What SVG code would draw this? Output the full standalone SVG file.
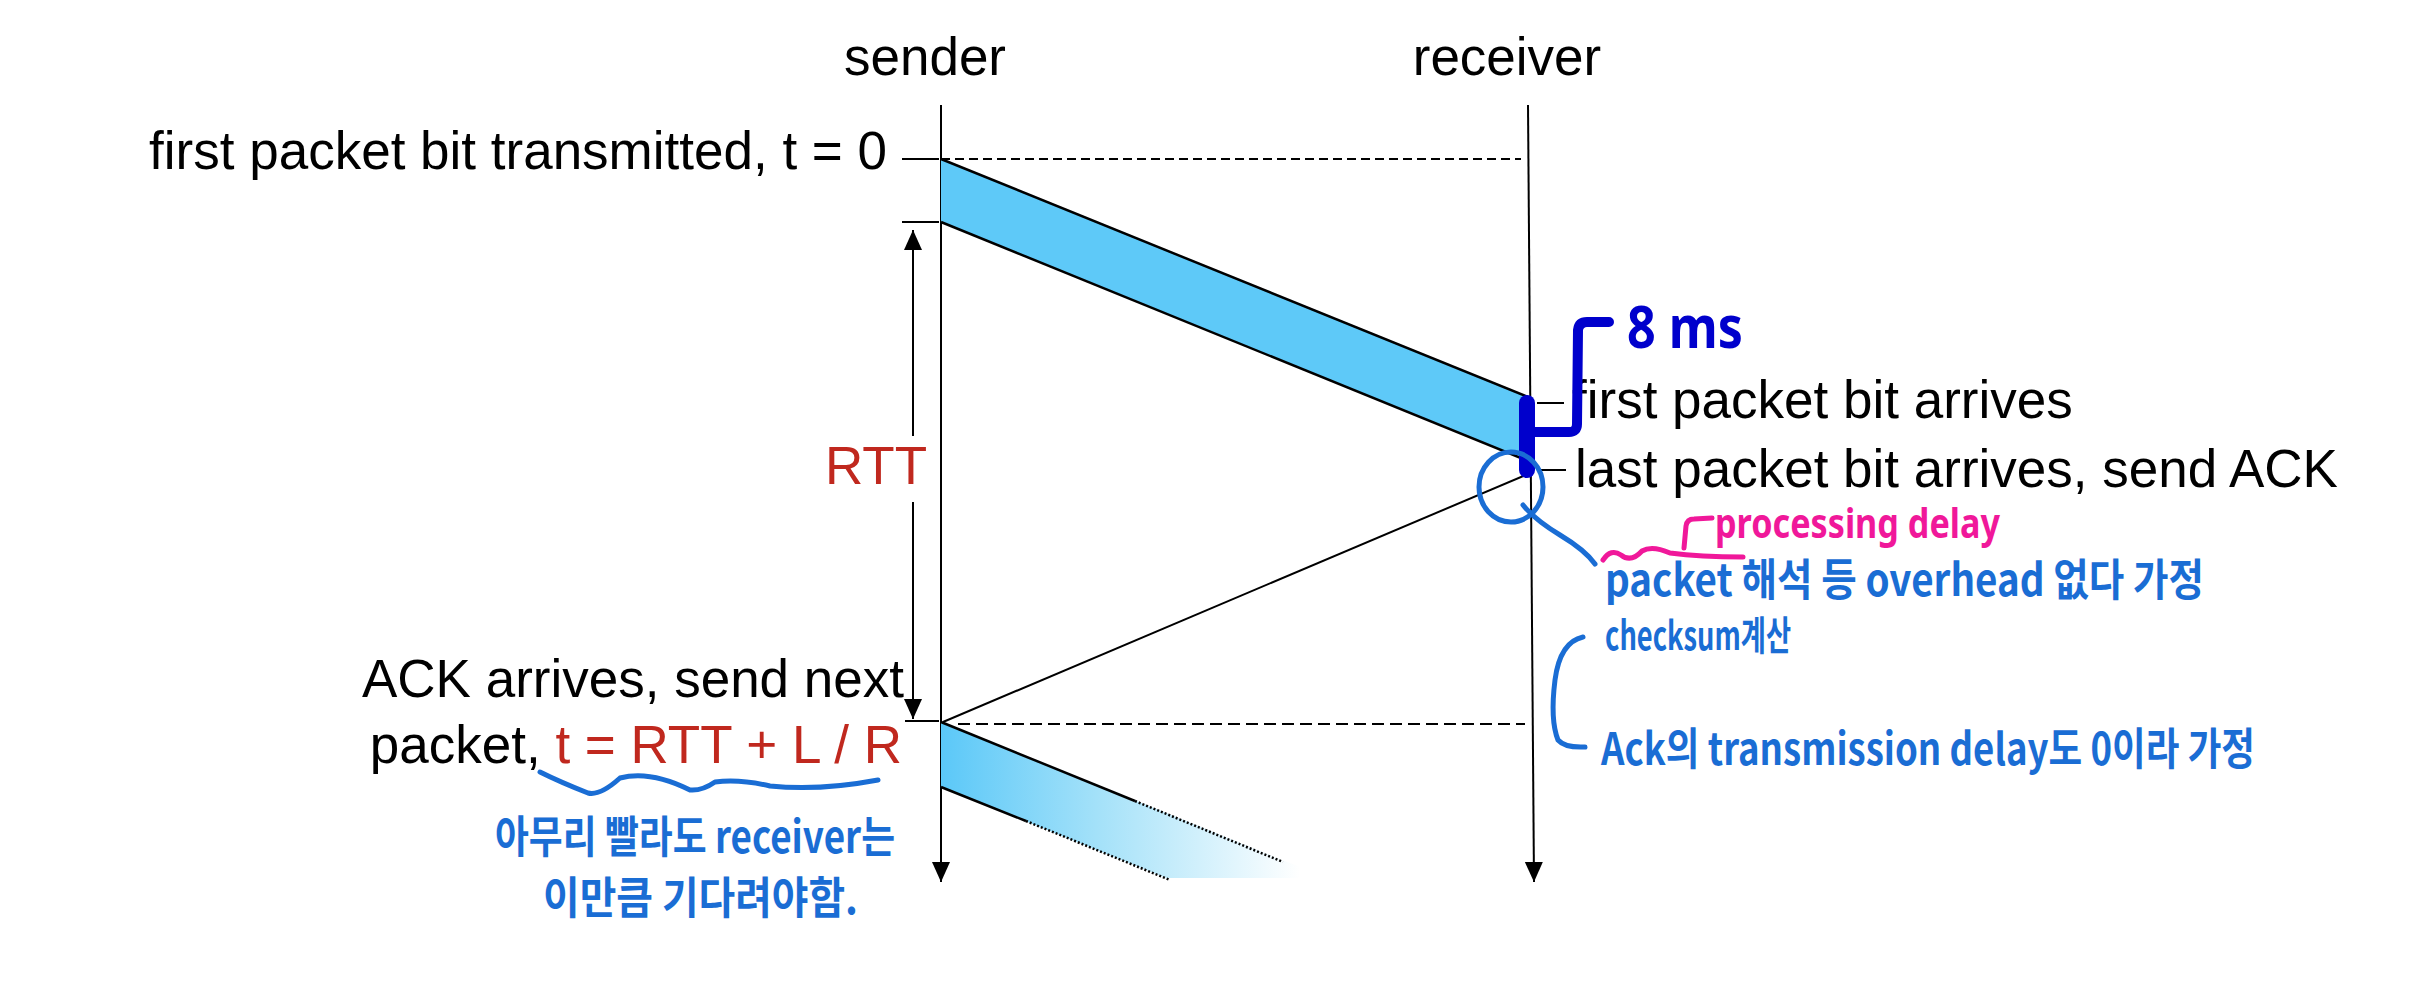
<svg xmlns="http://www.w3.org/2000/svg" width="2426" height="1000" viewBox="0 0 2426 1000">
<style>
.t{font-family:"Liberation Sans",Arial,sans-serif;font-size:53px;fill:#000}
.red{fill:#c0281e}
.ln{stroke:#000;stroke-width:2;fill:none}
.edge{stroke:#000;stroke-width:2.5;fill:none}
.dot{stroke:#000;stroke-width:2.5;fill:none;stroke-dasharray:2 2}
.dash1{stroke:#000;stroke-width:2;fill:none;stroke-dasharray:9 5}
.dash2{stroke:#000;stroke-width:2;fill:none;stroke-dasharray:12 6}
.hw{font-family:"Noto Sans CJK KR","Noto Sans",sans-serif;fill:#1a6dd4;font-weight:bold}
.hws{stroke:#1a6dd4;stroke-width:5;fill:none;stroke-linecap:round;stroke-linejoin:round}
.pk{stroke:#f0189a;stroke-width:5;fill:none;stroke-linecap:round;stroke-linejoin:round}
.db{stroke:#0000cc;fill:none;stroke-linecap:round;stroke-linejoin:round}
</style>
<defs>
<marker id="ah" viewBox="0 0 20 20" refX="20" refY="10" markerWidth="20" markerHeight="20" markerUnits="userSpaceOnUse" orient="auto-start-reverse">
<path d="M0,1 L20,10 L0,19 Z" fill="#000"/>
</marker>
<linearGradient id="fade" gradientUnits="userSpaceOnUse" x1="941" y1="0" x2="1300" y2="0">
<stop offset="0" stop-color="#5bc8f8"/>
<stop offset="0.45" stop-color="#a6e2f9"/>
<stop offset="1" stop-color="#ffffff"/>
</linearGradient>
</defs>
<rect width="2426" height="1000" fill="#fff"/>

<g id="sender">
<text class="t" x="925" y="75" text-anchor="middle">sender</text>
<line class="ln" x1="941" y1="105" x2="941" y2="882" marker-end="url(#ah)"/>
</g>
<g id="receiver">
<text class="t" x="1507" y="75" text-anchor="middle">receiver</text>
<line class="ln" x1="1528" y1="105" x2="1534" y2="882" marker-end="url(#ah)"/>
</g>

<g id="packet1">
<polygon points="941,159 1528,397 1528,461 941,222" fill="#5ec9f8"/>
<line class="edge" x1="941" y1="159" x2="1528" y2="397"/>
<line class="edge" x1="941" y1="222" x2="1528" y2="461"/>
</g>

<g id="packet2">
<polygon points="941,722 1300,867 1300,878 1166,878 941,787" fill="url(#fade)"/>
<line class="edge" x1="941" y1="722" x2="1135" y2="801"/>
<line class="dot" x1="1135" y1="801" x2="1283" y2="862"/>
<line class="edge" x1="941" y1="787" x2="1026" y2="821"/>
<line class="dot" x1="1026" y1="821" x2="1170" y2="880"/>
</g>

<g id="connectors">
<line class="dash1" x1="941" y1="159" x2="1521" y2="159"/>
<line class="dash2" x1="958" y1="724" x2="1525" y2="724"/>
<line class="ln" x1="1528" y1="474" x2="943" y2="722"/>
<line class="ln" x1="913" y1="436" x2="913" y2="230" marker-end="url(#ah)"/>
<line class="ln" x1="913" y1="502" x2="913" y2="719" marker-end="url(#ah)"/>
<line class="ln" x1="902" y1="159" x2="939" y2="159"/>
<line class="ln" x1="902" y1="222" x2="939" y2="222"/>
<line class="ln" x1="905" y1="721" x2="939" y2="721"/>
<line class="ln" x1="1537" y1="403" x2="1564" y2="403"/>
<line class="ln" x1="1540" y1="470" x2="1566" y2="470"/>
</g>

<g id="labels">
<text class="t" x="887" y="169" text-anchor="end" font-size="53.5">first packet bit transmitted, t = 0</text>
<text class="t red" x="876" y="484" text-anchor="middle">RTT</text>
<text class="t" x="1572" y="418">first packet bit arrives</text>
<text class="t" x="1575" y="487">last packet bit arrives, send ACK</text>
<text class="t" x="904" y="697" text-anchor="end">ACK arrives, send next</text>
<text class="t" x="902" y="763" text-anchor="end">packet, <tspan class="red">t = RTT + L / R</tspan></text>
</g>

<g id="note-8ms">
<line class="db" x1="1527" y1="403" x2="1527" y2="470" stroke-width="16"/>
<path class="db" stroke-width="10" d="M1533,432 L1569,432 Q1577,432 1577,424 L1578,330 Q1579,322 1587,322 L1609,322"/>
<text x="1627" y="348" font-family="'Noto Sans','Liberation Sans',sans-serif" font-weight="bold" font-size="60" fill="#0000cc" textLength="116" lengthAdjust="spacingAndGlyphs">8 ms</text>
</g>

<g id="note-processing">
<ellipse class="hws" cx="1511" cy="487" rx="32" ry="35" stroke-width="4"/>
<path class="hws" d="M1523,505 Q1535,520 1560,535 Q1585,550 1595,564"/>
<path class="pk" d="M1684,548 L1686,526 Q1687,519 1694,519 L1712,518"/>
<path class="pk" d="M1603,560 Q1611,548 1621,555 Q1631,563 1642,551 Q1652,545 1670,553 Q1700,557 1743,557"/>
<text x="1715" y="538" font-family="'Noto Sans','Liberation Sans',sans-serif" font-weight="bold" font-size="42" fill="#f0189a" textLength="285" lengthAdjust="spacingAndGlyphs">processing delay</text>
<text class="hw" x="1605" y="596" font-size="44" textLength="599" lengthAdjust="spacingAndGlyphs">packet 해석 등 overhead 없다 가정</text>
<text class="hw" x="1605" y="650" font-size="40" textLength="186" lengthAdjust="spacingAndGlyphs">checksum계산</text>
<path class="hws" d="M1583,637 Q1560,642 1555,680 Q1550,720 1558,740 Q1565,748 1585,747"/>
<text class="hw" x="1601" y="765" font-size="44" textLength="654" lengthAdjust="spacingAndGlyphs">Ack의 transmission delay도 0이라 가정</text>
</g>

<g id="note-wait">
<path class="hws" stroke-width="6" d="M540,772 Q560,782 588,793 Q600,796 620,778 Q650,770 690,790 Q702,791 715,782 Q740,779 770,786 Q820,791 878,780"/>
<text class="hw" x="495" y="853" font-size="44" textLength="400" lengthAdjust="spacingAndGlyphs">아무리 빨라도 receiver는</text>
<text class="hw" x="543" y="914" font-size="44" textLength="315" lengthAdjust="spacingAndGlyphs">이만큼 기다려야함.</text>
</g>
</svg>
